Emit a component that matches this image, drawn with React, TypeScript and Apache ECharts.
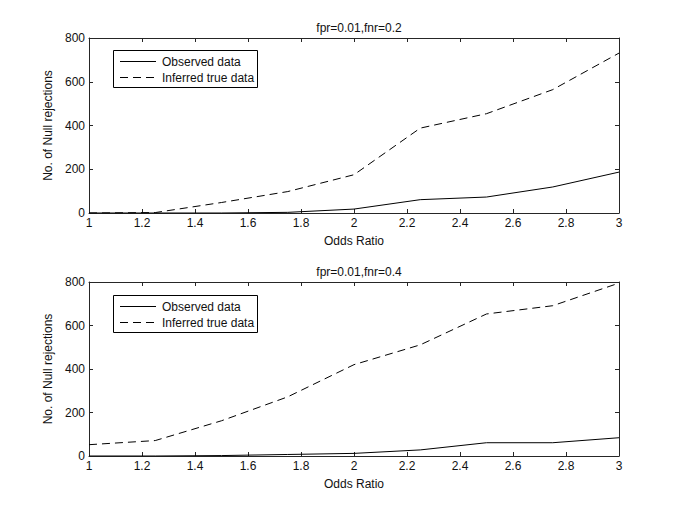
import React, { useEffect, useRef } from "react";
import * as echarts from "echarts";

const oddsRatio = [1, 1.25, 1.5, 1.75, 2, 2.25, 2.5, 2.75, 3];
const observedTop = [0, 0, 0, 3, 18, 61, 73, 119, 187];
const inferredTop = [0, 2, 48, 98, 175, 388, 454, 564, 731];
const observedBottom = [0, 0, 2, 7, 12, 28, 61, 61, 84];
const inferredBottom = [52, 71, 162, 272, 420, 511, 653, 691, 795];
const titles = ["fpr=0.01,fnr=0.2", "fpr=0.01,fnr=0.4"];
const seriesNames = ["Observed data", "Inferred true data"];

const FONT = "Liberation Sans, Arial, Helvetica, sans-serif";
const AXIS_COLOR = "#262626";
const DASH = [8, 5];

function pairs(ys: number[]) {
  return oddsRatio.map((x, i) => [x, ys[i]]);
}

function legendGraphic(top: number) {
  const left = 113;
  return [
    {
      type: "rect",
      shape: { x: left + 0.5, y: top + 0.5, width: 144, height: 37 },
      style: { fill: "#fff", stroke: "#000", lineWidth: 1 },
      z: 10,
    },
    {
      type: "line",
      shape: { x1: left + 7, y1: top + 11.5, x2: left + 43, y2: top + 11.5 },
      style: { stroke: "#000", lineWidth: 1 },
      z: 11,
    },
    {
      type: "line",
      shape: { x1: left + 7, y1: top + 27.5, x2: left + 43, y2: top + 27.5 },
      style: { stroke: "#000", lineWidth: 1, lineDash: DASH },
      z: 11,
    },
    {
      type: "text",
      x: left + 49,
      y: top + 11.5,
      style: { text: seriesNames[0], fill: "#111", font: `12px ${FONT}`, textVerticalAlign: "middle", verticalAlign: "middle" },
      z: 11,
    },
    {
      type: "text",
      x: left + 49,
      y: top + 27.5,
      style: { text: seriesNames[1], fill: "#111", font: `12px ${FONT}`, textVerticalAlign: "middle", verticalAlign: "middle" },
      z: 11,
    },
  ];
}

export default function App() {
  const ref = useRef<HTMLDivElement>(null);
  useEffect(() => {
    if (!ref.current) return;
    const chart = echarts.init(ref.current, null, { renderer: "svg" });
    const grids = [
      { left: 89, top: 38, width: 530, height: 175 },
      { left: 89, top: 282, width: 530, height: 174 },
    ];
    const xAxes: any[] = [];
    const yAxes: any[] = [];
    grids.forEach((_, gi) => {
      const common = {
        gridIndex: gi,
        min: 1,
        max: 3,
        interval: 0.2,
        splitLine: { show: false },
        axisLine: { show: true, onZero: false, lineStyle: { color: AXIS_COLOR, width: 1 } },
        axisTick: { show: true, inside: true, length: 4, lineStyle: { color: AXIS_COLOR } },
      };
      xAxes.push({
        ...common,
        type: "value",
        position: "bottom",
        name: "Odds Ratio",
        nameLocation: "middle",
        nameGap: 22,
        nameTextStyle: { color: "#111", fontSize: 12, fontFamily: FONT },
        axisLabel: { color: "#111", fontSize: 12, fontFamily: FONT, margin: 4 },
      });
      xAxes.push({
        ...common,
        type: "value",
        position: "top",
        axisLabel: { show: false },
      });
      const ycommon = {
        gridIndex: gi,
        type: "value",
        min: 0,
        max: 800,
        interval: 200,
        splitLine: { show: false },
        axisLine: { show: true, onZero: false, lineStyle: { color: AXIS_COLOR, width: 1 } },
        axisTick: { show: true, inside: true, length: 4, lineStyle: { color: AXIS_COLOR } },
      };
      yAxes.push({
        ...ycommon,
        position: "left",
        name: "No. of Null rejections",
        nameLocation: "middle",
        nameGap: 34,
        nameTextStyle: { color: "#111", fontSize: 12, fontFamily: FONT },
        axisLabel: { color: "#111", fontSize: 12, fontFamily: FONT, margin: 4 },
      });
      yAxes.push({
        ...ycommon,
        position: "right",
        axisLabel: { show: false },
      });
    });

    const mkSeries = (name: string, data: number[], gi: number, dashed: boolean) => ({
      type: "line",
      name,
      xAxisIndex: gi * 2,
      yAxisIndex: gi * 2,
      data: pairs(data),
      symbol: "none",
      showSymbol: false,
      lineStyle: { color: "#000", width: 1, type: dashed ? DASH : "solid" },
      itemStyle: { color: "#000" },
    });

    chart.setOption({
      animation: false,
      backgroundColor: "#fff",
      title: [
        { text: titles[0], left: 354, top: 17, textAlign: "center", textStyle: { fontSize: 12, fontWeight: "normal", color: "#111", fontFamily: FONT } },
        { text: titles[1], left: 354, top: 261, textAlign: "center", textStyle: { fontSize: 12, fontWeight: "normal", color: "#111", fontFamily: FONT } },
      ],
      graphic: [...legendGraphic(50), ...legendGraphic(295)],
      grid: grids,
      xAxis: xAxes,
      yAxis: yAxes,
      series: [
        mkSeries(seriesNames[0], observedTop, 0, false),
        mkSeries(seriesNames[1], inferredTop, 0, true),
        mkSeries(seriesNames[0], observedBottom, 1, false),
        mkSeries(seriesNames[1], inferredBottom, 1, true),
      ],
    });
    return () => chart.dispose();
  }, []);
  return (
    <div
      ref={ref}
      style={{ position: "fixed", left: 0, top: 0, width: 685, height: 513, background: "#fff" }}
    />
  );
}
